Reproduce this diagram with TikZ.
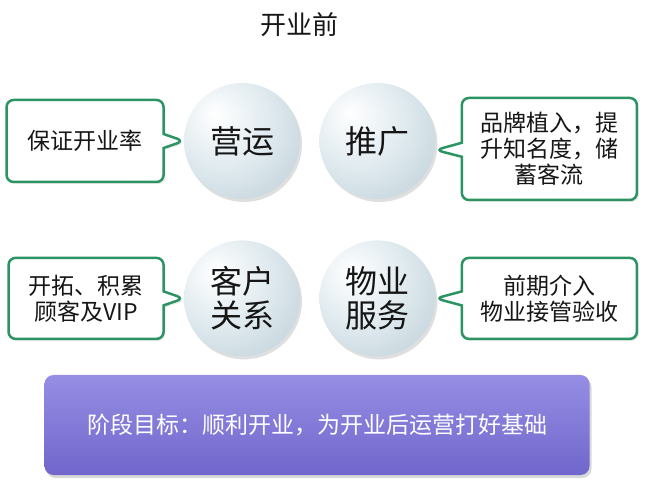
\documentclass[tikz,border=0pt]{standalone}
\usepackage{fontspec}
\setmainfont{Noto Sans CJK SC}
\usetikzlibrary{positioning,shapes.callouts,shadows}
\definecolor{tipgreen}{RGB}{44,148,98}
\definecolor{bubedge}{RGB}{166,188,198}
\definecolor{bubmid}{RGB}{222,233,238}
\definecolor{goalpurple}{RGB}{112,102,204}
\definecolor{goaltop}{RGB}{150,142,228}
\definecolor{inkgray}{RGB}{22,22,22}
\pgfdeclareradialshading{bubble}{\pgfpoint{-12bp}{12bp}}{color(0bp)=(white); color(22bp)=(bubmid); color(58bp)=(bubedge); color(80bp)=(bubedge)}

\begin{document}
\begin{tikzpicture}[x=1pt,y=-1pt, every node/.style={text=inkgray,align=center},
  bubble/.style={circle,inner sep=0pt,minimum size=116pt,shading=bubble,
    drop shadow={opacity=0.25,shadow xshift=2pt,shadow yshift=-3pt},font=\fontsize{32}{34}\selectfont},
  tipbox/.style={rectangle callout,draw=tipgreen,line width=2.5pt,rounded corners=7pt,fill=white,
    callout pointer width=14pt,font=\fontsize{23}{26}\selectfont,
    drop shadow={opacity=0.15,shadow xshift=2pt,shadow yshift=-2pt}}]
\useasboundingbox[fill=white] (0,0) rectangle (648,502);
\node[font=\fontsize{26}{30}\selectfont] (title) at (299,25) {开业前};
% four circles
\node[bubble] (yy) at (242,141) {营运};
\node[bubble,right=19pt of yy] (tg) {推广};
\node[bubble,below=41pt of yy] (kh) {客户\\关系};
\node[bubble,right=19pt of kh] (wy) {物业\\服务};
% callouts
\node[tipbox,minimum width=157pt,minimum height=82pt,left=19pt of yy,callout absolute pointer={(yy.west)}] (yyn) {保证开业率};
\node[tipbox,minimum width=175pt,minimum height=102pt,right=25pt of tg,yshift=-8pt,callout absolute pointer={([yshift=-9pt]tg.east)}] (tgn) {品牌植入，提\\升知名度，储\\蓄客流};
\node[tipbox,minimum width=155pt,minimum height=81pt,left=19pt of kh,callout absolute pointer={(kh.west)}] (khn) {开拓、积累\\顾客及VIP};
\node[tipbox,minimum width=175pt,minimum height=81pt,right=25pt of wy,callout absolute pointer={(wy.east)}] (wyn) {前期介入\\物业接管验收};
% goal bar
\node[rounded corners=9pt,minimum width=545pt,minimum height=100pt,top color=goaltop,bottom color=goalpurple,
  drop shadow={opacity=0.3,shadow xshift=2pt,shadow yshift=-3pt},text=white,font=\fontsize{23}{26}\selectfont] (goal) at (317,425) {阶段目标：顺利开业，为开业后运营打好基础};
\end{tikzpicture}
\end{document}
